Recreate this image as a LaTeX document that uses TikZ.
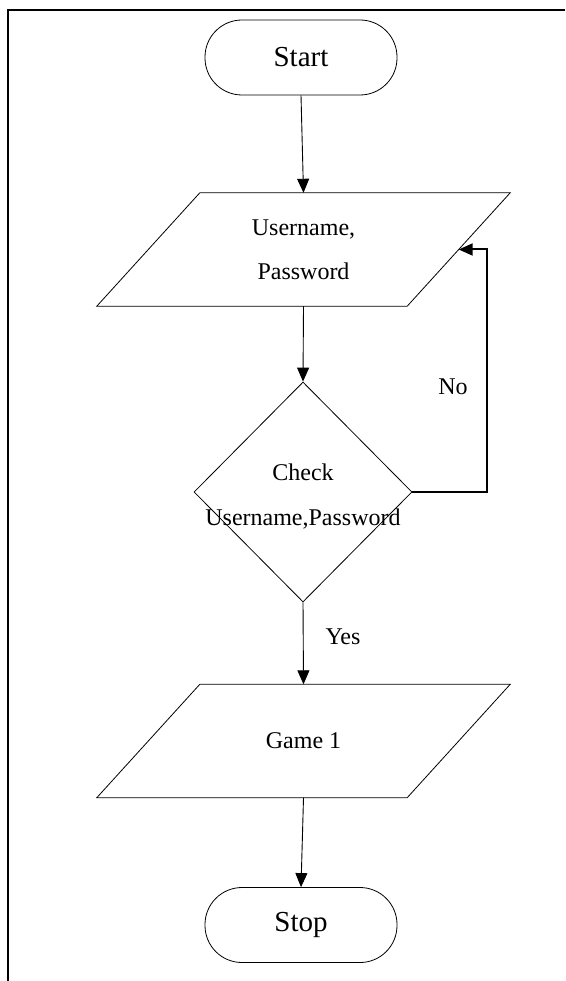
\documentclass[tikz,border=0pt]{standalone}
\usepackage{fontspec}
\setmainfont{Liberation Serif}
\usetikzlibrary{shapes.geometric,arrows.meta}
% outline of a data (input/output) box: a parallelogram filling the node's
% bounding box, its top edge shifted right by the slant
\newcommand\ioframe[1]{%
  \draw[line width=0.8pt] ([xshift=103pt]#1.north west) -- (#1.north east)
    -- ([xshift=-103pt]#1.south east) -- (#1.south west) -- cycle;}
\begin{document}
\begin{tikzpicture}[x=1pt,y=-1pt,
  terminal/.style={draw, line width=0.8pt, rectangle, rounded corners=37pt,
    minimum width=192pt, minimum height=75pt, inner sep=0pt,
    font=\fontsize{29}{34}\selectfont},
  io/.style={rectangle, minimum width=413pt, minimum height=113pt,
    inner sep=0pt, align=center, font=\fontsize{24}{44}\selectfont},
  decision/.style={draw, line width=0.8pt, diamond, minimum width=218pt,
    minimum height=220pt, inner sep=0pt},
  body/.style={font=\fontsize{24}{45}\selectfont, align=center, inner sep=0pt},
  flow/.style={draw, line width=0.9pt, -{Triangle[length=14pt,width=12pt]}},
  lbl/.style={font=\fontsize{24}{28}\selectfont, inner sep=0pt}
]
\useasboundingbox (0,0) rectangle (565,981);
\fill[white] (0,0) rectangle (565,981);

% page frame (left and top edges only)
\draw[line width=2.2pt] (8,981) -- (8,10) -- (565,10);

% flowchart nodes
\node[terminal] (start) at (301,57.5) {Start};
\node[io] (cred) at (303.5,249.5) {Username,\\Password};
\ioframe{cred}
\node[decision] (check) at (303,492) {};
\node[body] (checktxt) at (303,497) {Check\\Username,Password};
\node[io] (game) at (303.5,741) {Game 1};
\ioframe{game}
\node[terminal] (stop) at (301,925) {Stop};

% middle of the slanted right side of the credentials box
\coordinate (credright) at ([xshift=-51.5pt]cred.east);

% branch labels
\node[lbl] (yes) at (343,637) {Yes};
\node[lbl] (no) at (453,387) {No};

% connectors
\draw[flow] (start.south) -- (cred.north);
\draw[flow] (cred.south) -- (check.north);
\draw[flow] (check.south) -- (game.north);
\draw[flow] (game.south) -- (stop.north);
\draw[flow, line width=2pt] (check.east) -- ++(75,0) |- (credright);
\end{tikzpicture}
\end{document}
